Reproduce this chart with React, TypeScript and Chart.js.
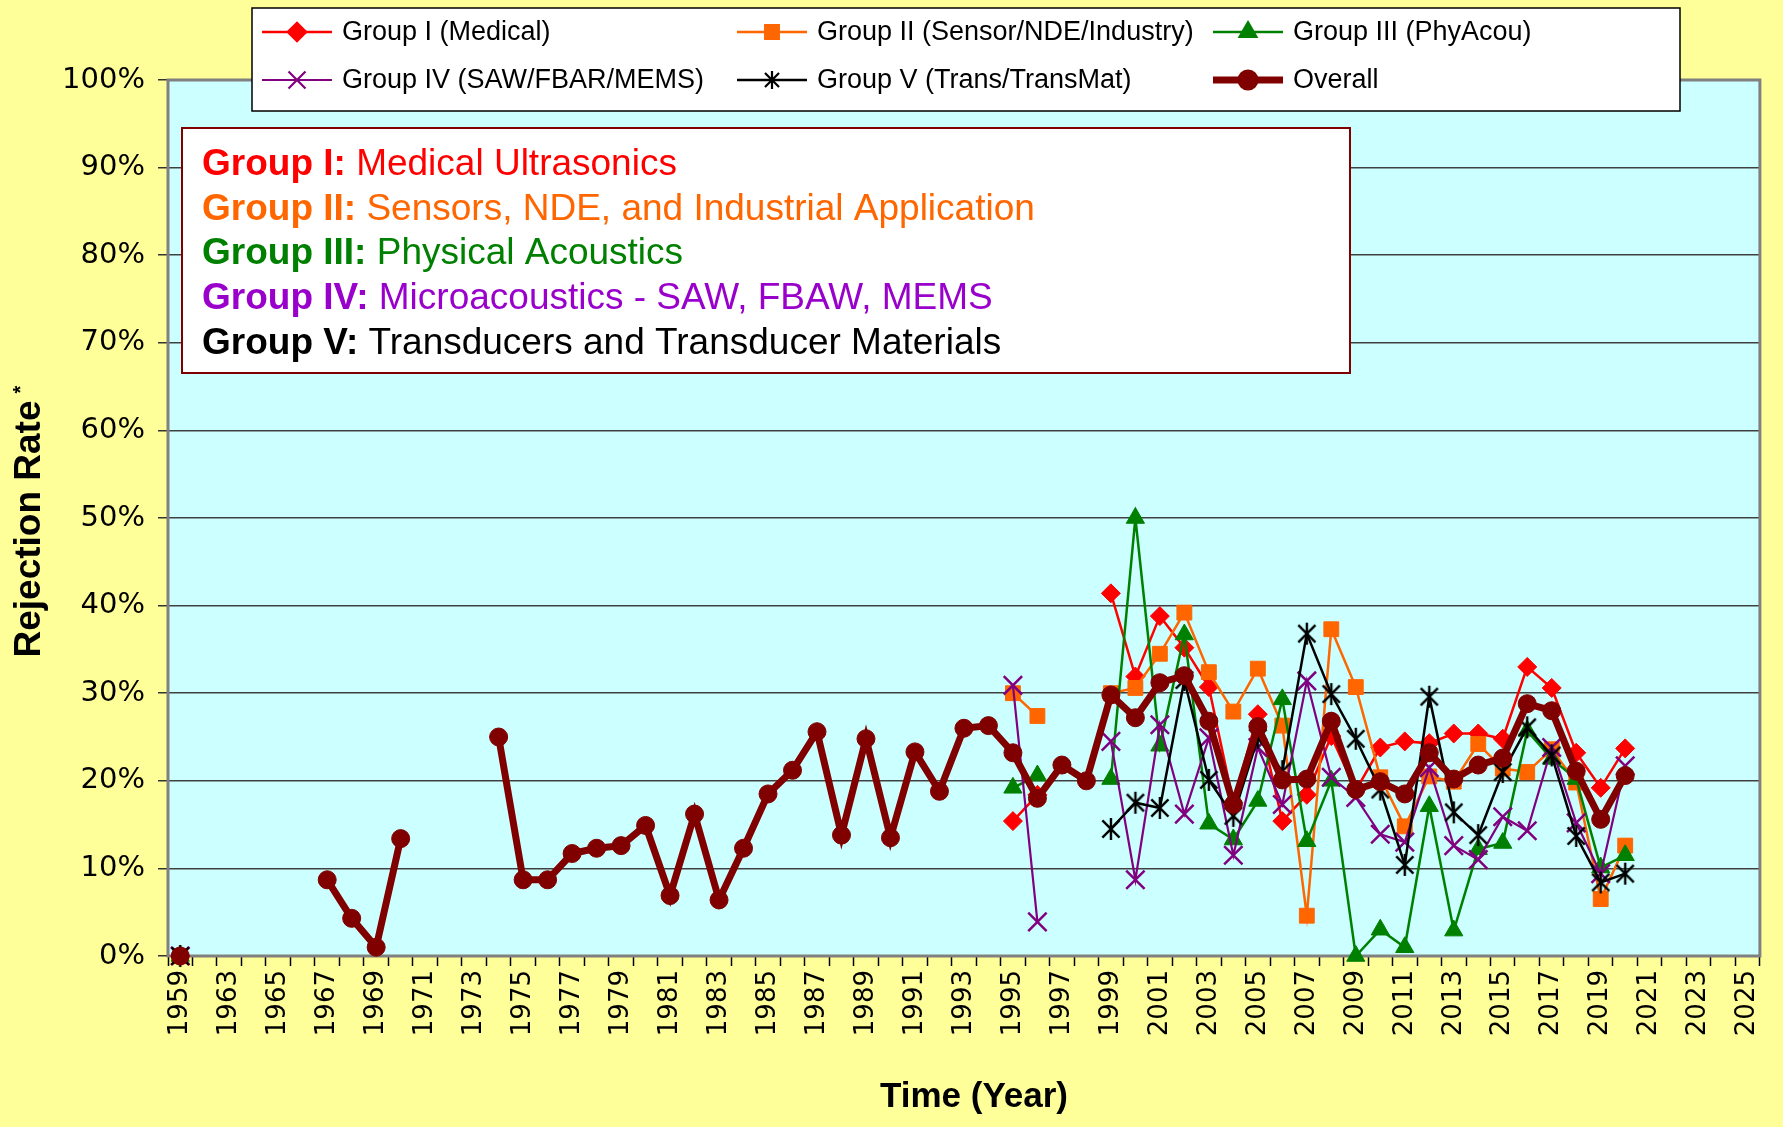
import React, { useEffect, useRef } from 'react';
import { Chart, registerables } from 'chart.js';
import { drawPoint } from 'chart.js/helpers';

Chart.register(...registerables);

// ---------- data ----------
const categories = [
  '1959', '1962', '1963', '1964', '1965', '1966', '1967', '1968', '1969', '1970',
  '1971', '1972', '1973', '1974', '1975', '1976', '1977', '1978', '1979', '1980',
  '1981', '1982', '1983', '1984', '1985', '1986', '1987', '1988', '1989', '1990',
  '1991', '1992', '1993', '1994', '1995', '1996', '1997', '1998', '1999', '2000',
  '2001', '2002', '2003', '2004', '2005', '2006', '2007', '2008', '2009', '2010',
  '2011', '2012', '2013', '2014', '2015', '2016', '2017', '2018', '2019', '2020',
  '2021', '2022', '2023', '2024', '2025',
];

// Overall, aligned with categories from 1959 to 2020
const overallValues = [
  0, null, null, null, null, null, 8.7, 4.3, 1.0, 13.4,
  null, null, null, 25.0, 8.7, 8.7, 11.7, 12.3, 12.6, 14.9,
  6.9, 16.2, 6.4, 12.3, 18.5, 21.2, 25.6, 13.8, 24.8, 13.5,
  23.3, 18.8, 26.0, 26.3, 23.2, 18.0, 21.8, 20.0, 29.8, 27.2,
  31.2, 32.0, 26.8, 17.3, 26.2, 20.1, 20.2, 26.8, 19.0, 19.9,
  18.5, 23.2, 20.2, 21.8, 22.6, 28.8, 28.0, 21.1, 15.6, 20.6,
];

const groupYears = [
  '1959', '1995', '1996', '1997', '1998', '1999', '2000', '2001', '2002', '2003',
  '2004', '2005', '2006', '2007', '2008', '2009', '2010', '2011', '2012', '2013',
  '2014', '2015', '2016', '2017', '2018', '2019', '2020',
];
const groupIValues = [0, 15.4, 18.4, null, null, 41.4, 31.9, 38.8, 35.2, 30.7, 17.5, 27.6, 15.4, 18.4, 25.1, 18.9, 23.8, 24.5, 24.3, 25.4, 25.4, 24.8, 33.0, 30.6, 23.2, 19.2, 23.7];
const groupIIValues = [0, 30.0, 27.4, null, null, 30.0, 30.6, 34.5, 39.2, 32.4, 27.9, 32.8, 26.3, 4.6, 37.3, 30.7, 20.4, 14.8, 20.5, 19.9, 24.2, 21.4, 21.0, 23.6, 19.8, 6.5, 12.6];
const groupIIIValues = [0, 19.2, 20.6, null, null, 20.2, 50.0, 24.0, 36.7, 15.1, 13.3, 17.7, 29.3, 13.1, 20.0, 0.0, 3.0, 1.0, 17.1, 2.9, 12.2, 12.9, 25.7, 22.5, 20.2, 10.1, 11.5];
const groupIVValues = [0, 30.9, 3.9, null, null, 24.5, 8.7, 26.4, 16.2, 24.9, 11.5, 23.8, 17.3, 31.4, 20.4, 18.1, 13.9, 13.0, 21.5, 12.6, 11.0, 15.9, 14.3, 23.8, 15.2, 9.4, 21.7];
const groupVValues = [0, null, null, null, null, 14.5, 17.5, 16.9, 31.5, 20.1, 16.0, 24.9, 21.1, 36.8, 29.9, 24.8, 19.0, 10.4, 29.6, 16.4, 13.8, 21.0, 26.1, 22.9, 13.7, 8.4, 9.4];

const seriesLabels = [
  'Group I (Medical)',
  'Group II (Sensor/NDE/Industry)',
  'Group III (PhyAcou)',
  'Group IV (SAW/FBAR/MEMS)',
  'Group V (Trans/TransMat)',
  'Overall',
];

const yTickValues = [0, 10, 20, 30, 40, 50, 60, 70, 80, 90, 100];

const noteBold = ['Group I:', 'Group II:', 'Group III:', 'Group IV:', 'Group V:'];
const noteText = [
  ' Medical Ultrasonics',
  ' Sensors, NDE, and Industrial Application',
  ' Physical Acoustics',
  ' Microacoustics - SAW, FBAW, MEMS',
  ' Transducers and Transducer Materials',
];
const noteColors = ['#FF0000', '#FF6600', '#008000', '#9900CC', '#000000'];

const xTitle = 'Time (Year)';
const yTitle = 'Rejection Rate';

// ---------- helpers ----------
function alignGroup(values: (number | null)[]) {
  return categories.map((c) => {
    const i = groupYears.indexOf(c);
    return i >= 0 ? values[i] : null;
  });
}

function makeAsterisk(size: number, lw: number): HTMLCanvasElement {
  const c = document.createElement('canvas');
  c.width = size;
  c.height = size;
  const g = c.getContext('2d')!;
  const m = size / 2;
  const r = size / 2 - 1;
  const d = r * 0.78;
  g.strokeStyle = '#000000';
  g.lineWidth = lw;
  g.beginPath();
  g.moveTo(m, m - r);
  g.lineTo(m, m + r);
  g.moveTo(m - d, m - d);
  g.lineTo(m + d, m + d);
  g.moveTo(m + d, m - d);
  g.lineTo(m - d, m + d);
  g.stroke();
  return c;
}

const FONT = '"Liberation Sans", Arial, sans-serif';
const TICK_FONT = '"DejaVu Sans", sans-serif';

export default function App() {
  const ref = useRef<HTMLCanvasElement | null>(null);

  useEffect(() => {
    document.body.style.margin = '0';
    document.body.style.overflow = 'hidden';
    const canvas = ref.current;
    if (!canvas) return;
    const asterisk = makeAsterisk(24, 2.4);
    const asteriskSmall = makeAsterisk(20, 2.2);

    const groupCommon = {
      spanGaps: false,
      clip: false as any,
      tension: 0,
      borderWidth: 2.5,
    };

    const datasets: any[] = [
      {
        ...groupCommon,
        label: seriesLabels[0],
        data: alignGroup(groupIValues),
        borderColor: '#FF0000',
        backgroundColor: '#FF0000',
        pointStyle: 'rectRot',
        pointRadius: 9.5,
        pointBorderWidth: 1,
        order: 6,
      },
      {
        ...groupCommon,
        label: seriesLabels[1],
        data: alignGroup(groupIIValues),
        borderColor: '#FF6600',
        backgroundColor: '#FF6600',
        pointStyle: 'rect',
        pointRadius: 10.5,
        pointBorderWidth: 1,
        order: 5,
      },
      {
        ...groupCommon,
        label: seriesLabels[2],
        data: alignGroup(groupIIIValues),
        borderColor: '#008000',
        backgroundColor: '#008000',
        pointStyle: 'triangle',
        pointRadius: 10.5,
        pointBorderWidth: 1,
        order: 4,
      },
      {
        ...groupCommon,
        label: seriesLabels[3],
        data: alignGroup(groupIVValues),
        borderColor: '#800080',
        backgroundColor: '#800080',
        borderWidth: 2.2,
        pointStyle: 'crossRot',
        pointRadius: 13,
        pointBorderWidth: 2.5,
        order: 3,
      },
      {
        ...groupCommon,
        label: seriesLabels[4],
        data: alignGroup(groupVValues),
        borderColor: '#000000',
        backgroundColor: '#000000',
        pointStyle: asterisk,
        pointRadius: 11,
        order: 2,
      },
      {
        ...groupCommon,
        label: seriesLabels[5],
        data: categories.map((_, i) => (i < overallValues.length ? overallValues[i] : null)),
        borderColor: '#800000',
        backgroundColor: '#800000',
        borderWidth: 7,
        pointStyle: 'circle',
        pointRadius: 9,
        pointBorderWidth: 1,
        order: 1,
      },
    ];

    const legendRadius = [9, 9.5, 9.5, 12, 10, 7];

    const decor = {
      id: 'decor',
      beforeDraw(chart: any) {
        const { ctx, chartArea: a, width, height } = chart;
        ctx.save();
        ctx.fillStyle = '#FFFF99';
        ctx.fillRect(0, 0, width, height);
        ctx.fillStyle = '#CCFFFF';
        ctx.fillRect(a.left, a.top, a.right - a.left, a.bottom - a.top);
        ctx.restore();
      },
      beforeDatasetsDraw(chart: any) {
        const { ctx, chartArea: a } = chart;
        ctx.save();
        ctx.strokeStyle = '#808080';
        ctx.lineWidth = 3;
        ctx.strokeRect(a.left, a.top, a.right - a.left, a.bottom - a.top);
        ctx.restore();
      },
      afterDraw(chart: any) {
        const { ctx } = chart;
        ctx.save();

        // Axis titles
        ctx.fillStyle = '#000000';
        ctx.font = `bold 35px ${FONT}`;
        ctx.textAlign = 'center';
        ctx.textBaseline = 'middle';
        ctx.fillText(xTitle, 974, 1097);

        ctx.save();
        ctx.translate(30, 529);
        ctx.rotate(-Math.PI / 2);
        ctx.font = `bold 37px ${FONT}`;
        ctx.fillText(yTitle, 0, 0);
        const tw = ctx.measureText(yTitle).width;
        ctx.font = `bold 20px ${FONT}`;
        ctx.textAlign = 'left';
        ctx.fillText('*', tw / 2 + 7, -9);
        ctx.restore();

        // Note box
        const bx = 182, by = 128, bw = 1168, bh = 245;
        ctx.fillStyle = '#FFFFFF';
        ctx.fillRect(bx, by, bw, bh);
        ctx.strokeStyle = '#800000';
        ctx.lineWidth = 2;
        ctx.strokeRect(bx, by, bw, bh);
        ctx.textAlign = 'left';
        ctx.textBaseline = 'middle';
        for (let i = 0; i < noteBold.length; i++) {
          const y = 165 + i * 44.6;
          ctx.fillStyle = noteColors[i];
          ctx.font = `bold 37px ${FONT}`;
          ctx.fillText(noteBold[i], 202, y);
          const w = ctx.measureText(noteBold[i]).width;
          ctx.font = `37px ${FONT}`;
          ctx.fillText(noteText[i], 202 + w, y);
        }

        // Legend box
        const lx = 252, ly = 8, lw = 1428, lh = 103;
        ctx.fillStyle = '#FFFFFF';
        ctx.fillRect(lx, ly, lw, lh);
        ctx.strokeStyle = '#000000';
        ctx.lineWidth = 1.5;
        ctx.strokeRect(lx, ly, lw, lh);
        const slotX = [262, 737, 1213];
        const slotY = [32, 80];
        chart.data.datasets.forEach((ds: any, i: number) => {
          const x0 = slotX[i % 3];
          const y0 = slotY[Math.floor(i / 3)];
          ctx.strokeStyle = ds.borderColor;
          ctx.lineWidth = ds.borderWidth;
          ctx.beginPath();
          ctx.moveTo(x0, y0);
          ctx.lineTo(x0 + 70, y0);
          ctx.stroke();
          ctx.fillStyle = ds.backgroundColor;
          ctx.strokeStyle = ds.borderColor;
          drawPoint(
            ctx,
            {
              pointStyle: ds.pointStyle === asterisk ? asteriskSmall : ds.pointStyle,
              rotation: 0,
              radius: legendRadius[i],
              borderWidth: ds.pointBorderWidth ?? 1,
            } as any,
            x0 + 35,
            y0
          );
          ctx.fillStyle = '#000000';
          ctx.font = `27px ${FONT}`;
          ctx.textAlign = 'left';
          ctx.textBaseline = 'middle';
          ctx.fillText(ds.label, x0 + 80, y0 + 1);
        });

        ctx.restore();
      },
    };

    const chart = new Chart(canvas, {
      type: 'line',
      data: { labels: categories, datasets },
      options: {
        responsive: false,
        animation: false,
        layout: { padding: { left: 0, top: 80, right: 20, bottom: 0 } },
        plugins: {
          legend: { display: false },
          tooltip: { enabled: false },
          title: { display: false },
        },
        scales: {
          x: {
            type: 'category',
            offset: true,
            afterFit: (s: any) => {
              s.height = 171;
            },
            grid: {
              offset: true,
              drawOnChartArea: false,
              drawTicks: true,
              tickLength: 10,
              tickColor: '#000000',
              tickWidth: 1.5,
            },
            border: { display: false },
            ticks: {
              autoSkip: false,
              minRotation: 90,
              maxRotation: 90,
              padding: 4,
              color: '#000000',
              font: { family: TICK_FONT, size: 26 },
              callback: function (this: any, val: any, idx: number) {
                return idx % 2 === 0 ? this.getLabelForValue(val) : '';
              },
            },
          },
          y: {
            min: 0,
            max: 100,
            afterFit: (s: any) => {
              s.width = 168;
            },
            afterBuildTicks: (s: any) => {
              s.ticks = yTickValues.map((v) => ({ value: v }));
            },
            grid: {
              color: '#404040',
              lineWidth: 1.5,
              tickLength: 10,
              tickColor: '#333333',
            },
            border: { display: false },
            ticks: {
              padding: 13,
              color: '#000000',
              font: { family: TICK_FONT, size: 29 },
              callback: (v: any) => `${v}%`,
            },
          },
        },
      },
      plugins: [decor],
    });

    return () => chart.destroy();
  }, []);

  return (
    <div style={{ width: 1783, height: 1127 }}>
      <canvas ref={ref} width={1783} height={1127} style={{ display: 'block' }} />
    </div>
  );
}
